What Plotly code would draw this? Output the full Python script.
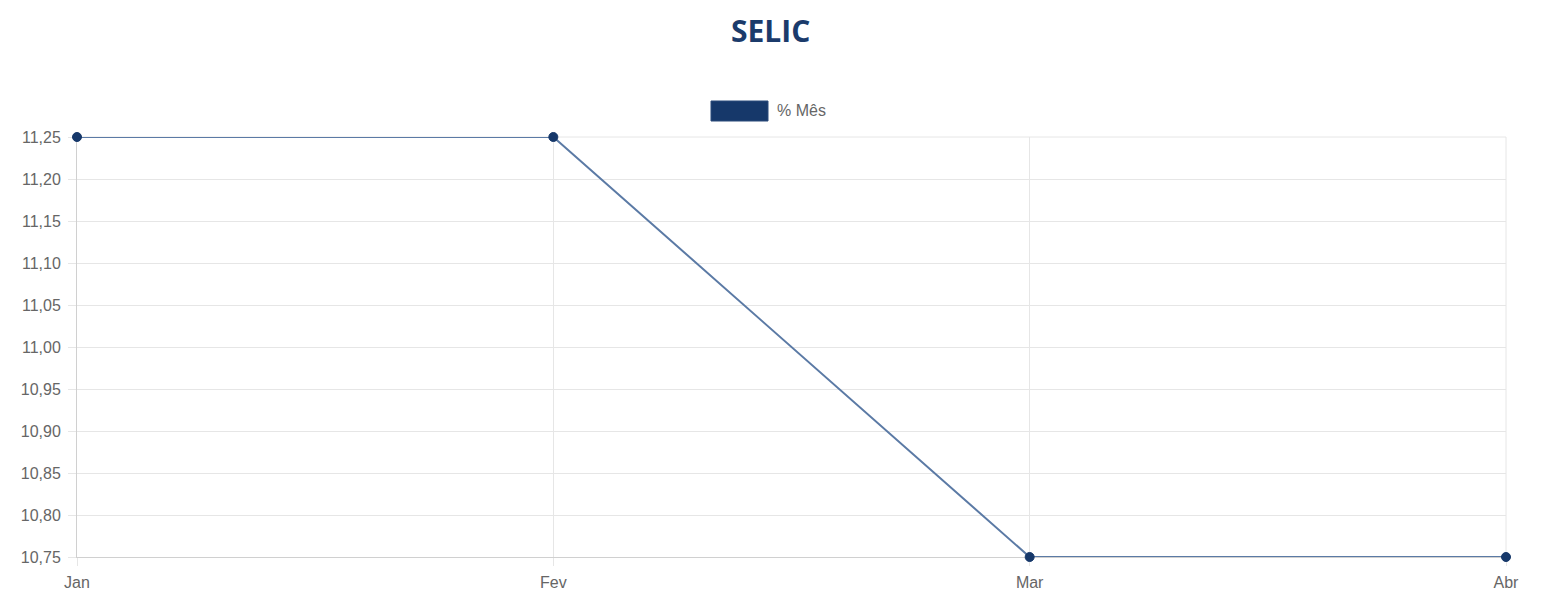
import plotly.graph_objects as go

months = ["Jan", "Fev", "Mar", "Abr"]
selic = [11.25, 11.25, 10.75, 10.75]
series_name = "% Mês"
title = "SELIC"

# page body has an 8px margin; compute figure coordinates accordingly
OFF = 8
W, H = 1542 - 2 * OFF, 598 - OFF
ml = 77 - OFF
mt = 137 - OFF
mr = W - (1506 - OFF)
mb = H - (557 - OFF)
pw, ph = W - ml - mr, H - mt - mb

fig = go.Figure()
fig.add_trace(go.Scatter(
    x=list(range(len(months))), y=selic, mode="lines+markers", name=series_name,
    line=dict(color="#5b7aa5", width=2),
    marker=dict(color="#16386a", size=9, line=dict(color="#16386a", width=1)),
    showlegend=False, cliponaxis=False,
))

grid = "#e6e6e6"
fig.update_layout(
    width=W, height=H,
    margin=dict(l=ml, r=mr, t=mt, b=mb, autoexpand=False),
    plot_bgcolor="white", paper_bgcolor="white",
    separators=",.",
    font=dict(family="Liberation Sans, Arial", color="#666666", size=16),
    xaxis=dict(
        range=[0, 3], tickmode="array", tickvals=list(range(len(months))), ticktext=months,
        showgrid=True, gridcolor=grid, zeroline=False, automargin=False,
        ticks="outside", ticklen=8, tickcolor=grid, ticklabelstandoff=3,
        showline=True, linecolor="#d0d0d0", mirror=False, layer="below traces",
        tickfont=dict(size=16, color="#666666"),
    ),
    yaxis=dict(
        range=[10.75, 11.25], dtick=0.05, tick0=10.75, tickformat=".2f",
        showgrid=True, gridcolor=grid, zeroline=False, automargin=False,
        ticks="outside", ticklen=8, tickcolor=grid, ticklabelstandoff=4,
        showline=True, linecolor="#d0d0d0", layer="below traces",
        tickfont=dict(size=16, color="#666666"),
    ),
)
fig.add_shape(type="line", xref="paper", yref="paper", x0=1, x1=1, y0=0, y1=1,
              line=dict(color=grid, width=1), layer="below")
fig.add_shape(type="line", xref="paper", yref="paper", x0=0, x1=1, y0=1, y1=1,
              line=dict(color=grid, width=1), layer="below")

def px_x(x):
    return (x - OFF - ml) / pw

def px_y(y):
    return (H - mb - (y - OFF)) / ph

# title as annotation; its text box starts just inside the top edge of the figure
fig.add_annotation(xref="paper", yref="paper", x=px_x(770), y=px_y(OFF + 1),
                   text=title, showarrow=False,
                   xanchor="center", yanchor="top", borderpad=0,
                   font=dict(family="Open Sans, Noto Sans", size=30, color="#1b3b6b", weight="bold"))

# legend drawn manually (Chart.js-style box)
fig.add_shape(type="rect", xref="paper", yref="paper",
              x0=px_x(711), x1=px_x(768), y0=px_y(121), y1=px_y(101),
              fillcolor="#16386a", line=dict(color="#2a4a7a", width=1))
fig.add_annotation(xref="paper", yref="paper",
                   x=px_x(775), y=px_y(110),
                   text=series_name, showarrow=False, xanchor="left", yanchor="middle",
                   font=dict(size=16, color="#666666"))

fig.write_html("out.html")
